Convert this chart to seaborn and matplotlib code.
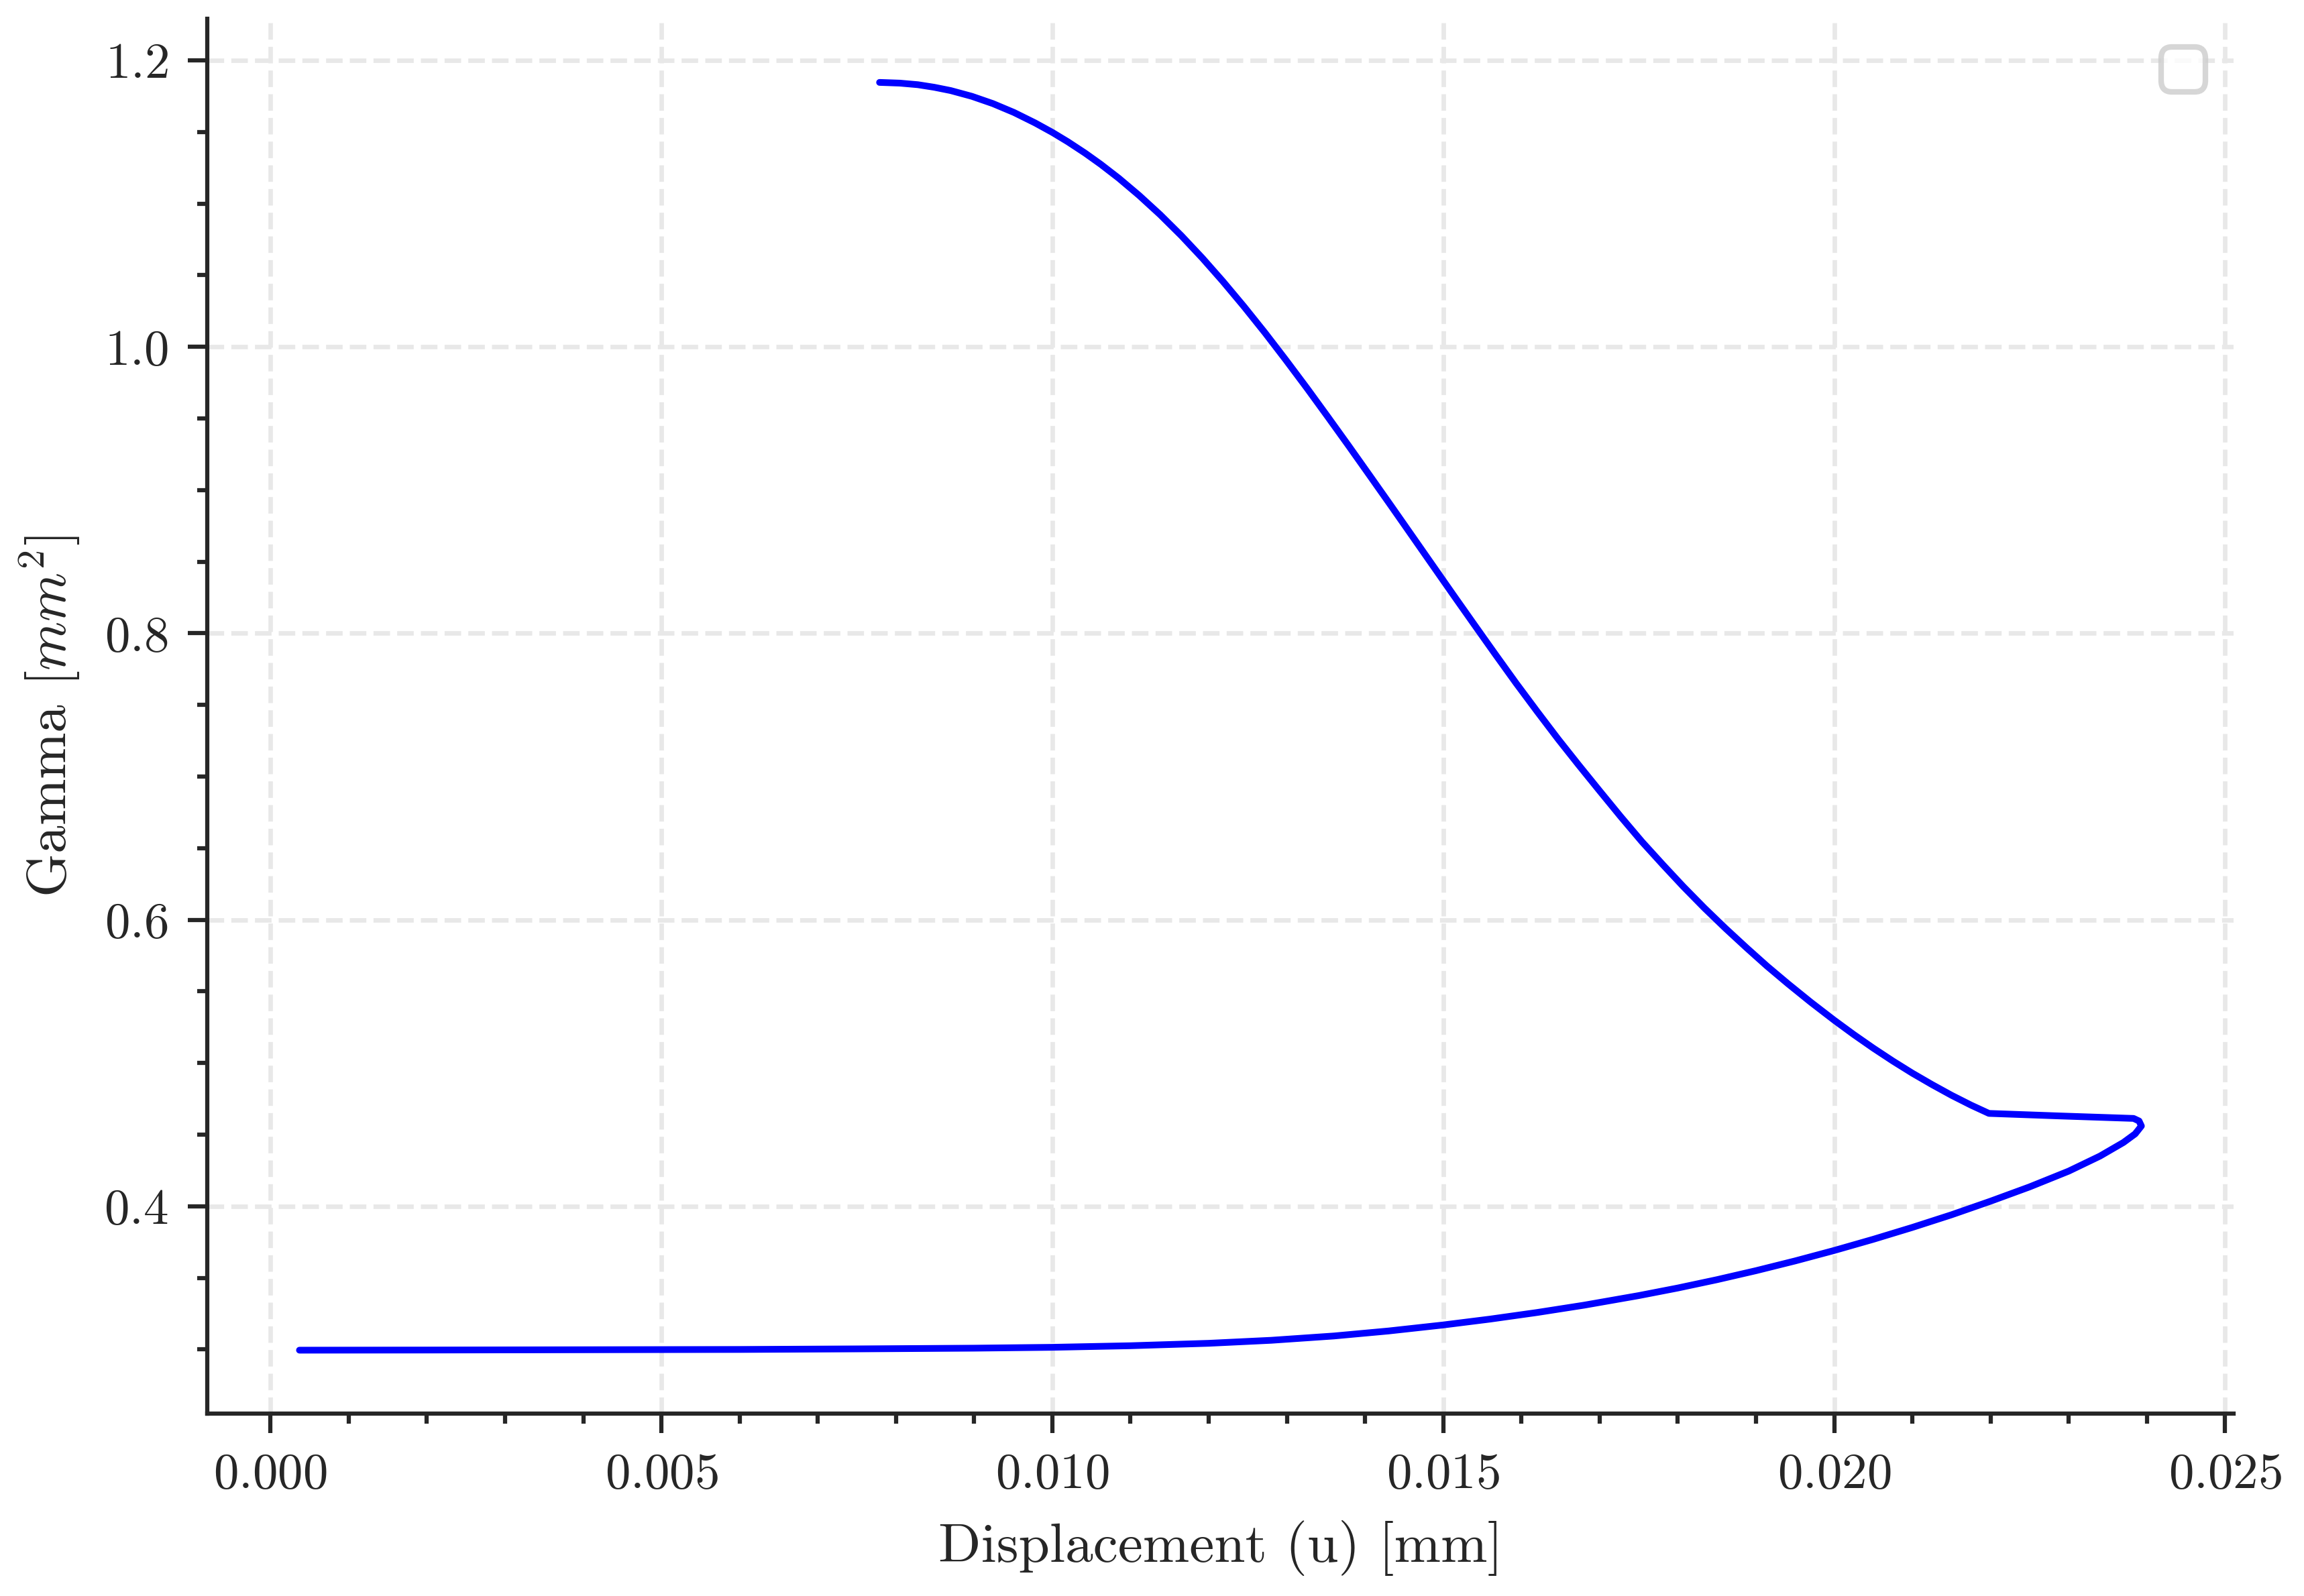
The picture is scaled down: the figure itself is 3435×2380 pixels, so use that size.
import matplotlib
matplotlib.use("Agg")
import matplotlib.pyplot as plt
from matplotlib.ticker import AutoMinorLocator
import seaborn as sns
import warnings

# Displacement (u) [mm] and Gamma [mm^2] (path order)
# lower branch: left to right, round the tip
lower_u = [0.00037, 0.0020, 0.0040, 0.0060, 0.0075, 0.0090, 0.0100, 0.0110,
           0.0120, 0.0128, 0.0136, 0.0143, 0.0150, 0.0156, 0.0162, 0.0168,
           0.0175, 0.0180, 0.0185, 0.0190, 0.0195, 0.0200, 0.0205, 0.0210,
           0.0215, 0.0220, 0.0225, 0.0230, 0.0234, 0.0237, 0.02385, 0.02393,
           0.02390, 0.02383]
lower_gamma = [0.2995, 0.2996, 0.2998, 0.3000, 0.3004, 0.3009, 0.3015, 0.3026,
               0.3043, 0.3064, 0.3094, 0.3129, 0.3171, 0.3212, 0.3258, 0.3309,
               0.3376, 0.3429, 0.3487, 0.3550, 0.3618, 0.3691, 0.3769, 0.3852,
               0.3940, 0.4035, 0.4135, 0.4245, 0.4350, 0.4445, 0.4505, 0.4560,
               0.4595, 0.4613]

# short plateau back to the kink
plateau_u = [0.0229]
plateau_gamma = [0.4630]

# upper branch: from the kink up to the start point at the top
upper_u = [0.02198, 0.02175, 0.02150, 0.02125, 0.02100, 0.02075, 0.02050, 0.02025,
           0.02000, 0.01970, 0.01941, 0.01914, 0.01888, 0.01861, 0.01834, 0.01807,
           0.01781, 0.01754, 0.01727, 0.01700, 0.01673, 0.01647, 0.01620, 0.01593,
           0.01566, 0.01540, 0.01513, 0.01486, 0.01459, 0.01433, 0.01406, 0.01379,
           0.01352, 0.01326, 0.01299, 0.01272, 0.01245, 0.01218, 0.01192, 0.01165,
           0.01138, 0.01111, 0.01085, 0.01062, 0.01042, 0.01020, 0.01000, 0.00978,
           0.00951, 0.00924, 0.00897, 0.00870, 0.00849, 0.00828, 0.00805, 0.00779]
upper_gamma = [0.4648, 0.4706, 0.4775, 0.4850, 0.4929, 0.5014, 0.5104, 0.5199,
               0.5299, 0.5425, 0.5553, 0.5677, 0.5804, 0.5940, 0.6082, 0.6232,
               0.6384, 0.6546, 0.6720, 0.6900, 0.7082, 0.7261, 0.7455, 0.7653,
               0.7858, 0.8058, 0.8267, 0.8478, 0.8689, 0.8892, 0.9101, 0.9309,
               0.9514, 0.9709, 0.9906, 1.0098, 1.0282, 1.0458, 1.0619, 1.0776,
               1.0922, 1.1057, 1.1177, 1.1274, 1.1352, 1.1431, 1.1497, 1.1563,
               1.1636, 1.1698, 1.1749, 1.1789, 1.1812, 1.1830, 1.1841, 1.1846]

displacement = lower_u + plateau_u + upper_u
gamma = lower_gamma + plateau_gamma + upper_gamma

sns.set_style("ticks")
plt.rcParams["font.family"] = ["cmr10", "DejaVu Serif"]
plt.rcParams["mathtext.fontset"] = "cm"
plt.rcParams["axes.formatter.use_mathtext"] = True
plt.rcParams["axes.unicode_minus"] = False

fig = plt.figure(figsize=(5.725, 3.967), dpi=600)
ax = fig.add_axes([0.090, 0.1143, 0.8794, 0.8737])

sns.lineplot(x=displacement, y=gamma, sort=False, estimator=None,
             color="blue", linewidth=1.2, ax=ax)

ax.set_xlabel("Displacement (u) [mm]", fontsize=10)
ax.set_ylabel(r"Gamma [$mm^2$]", fontsize=10)
ax.set_yticks([0.4, 0.6, 0.8, 1.0, 1.2])
ax.xaxis.set_minor_locator(AutoMinorLocator(5))
ax.yaxis.set_minor_locator(AutoMinorLocator(4))
ax.tick_params(which="major", direction="out", length=3.5, width=0.75, labelsize=9)
ax.tick_params(which="minor", direction="out", length=1.75, width=0.75)
for side in ["left", "bottom"]:
    ax.spines[side].set_linewidth(0.75)
sns.despine(ax=ax)
ax.grid(True, which="major", linestyle="--", linewidth=0.8, color="#e8e8e8")
ax.set_axisbelow(True)

# the original calls legend() with no labelled artists -> empty box
with warnings.catch_warnings():
    warnings.simplefilter("ignore")
    ax.legend(fontsize=10)

fig.savefig("out.png", dpi=600)
